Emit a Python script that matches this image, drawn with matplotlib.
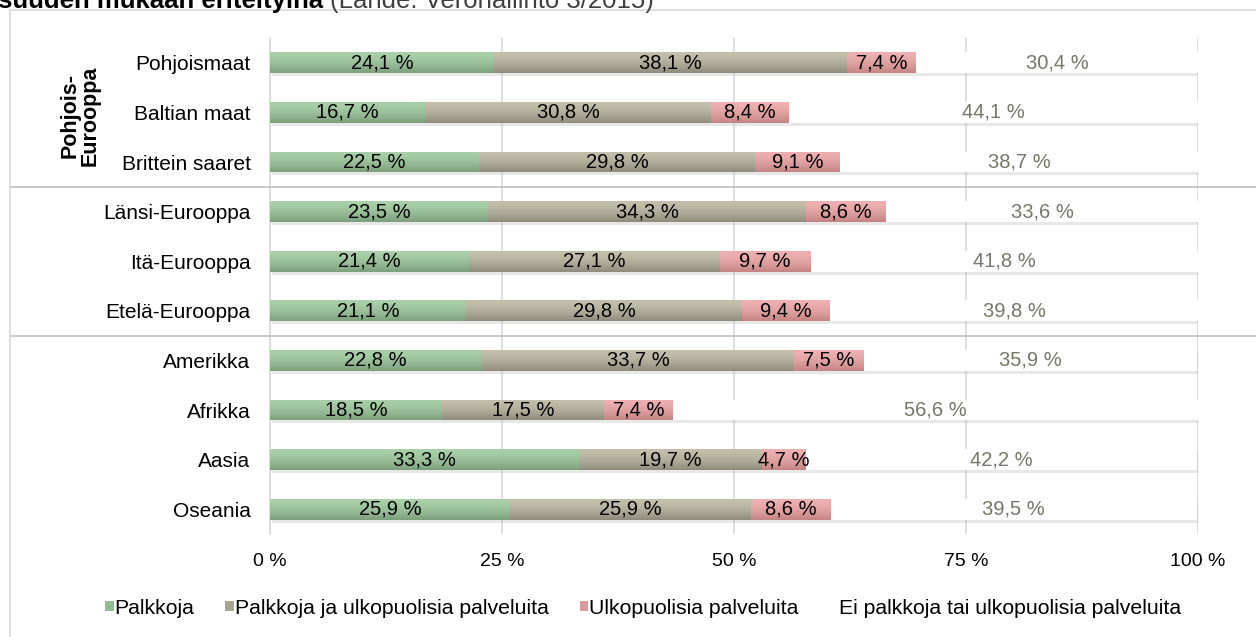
import numpy as np
import matplotlib
matplotlib.use("Agg")
import matplotlib.pyplot as plt
import matplotlib.transforms as mtransforms
from matplotlib.lines import Line2D
from matplotlib.patches import Patch
from matplotlib import patheffects as pe

REG = 'Liberation Sans'
plt.rcParams['font.family'] = [REG, 'DejaVu Sans']

categories = ["Pohjoismaat", "Baltian maat", "Brittein saaret", "Länsi-Eurooppa",
              "Itä-Eurooppa", "Etelä-Eurooppa", "Amerikka", "Afrikka", "Aasia", "Oseania"]
palkkoja = [24.1, 16.7, 22.5, 23.5, 21.4, 21.1, 22.8, 18.5, 33.3, 25.9]
palkkoja_ja_ulk = [38.1, 30.8, 29.8, 34.3, 27.1, 29.8, 33.7, 17.5, 19.7, 25.9]
ulkopuolisia = [7.4, 8.4, 9.1, 8.6, 9.7, 9.4, 7.5, 7.4, 4.7, 8.6]
ei_kumpaakaan = [30.4, 44.1, 38.7, 33.6, 41.8, 39.8, 35.9, 56.6, 42.2, 39.5]
series_names = ["Palkkoja", "Palkkoja ja ulkopuolisia palveluita",
                "Ulkopuolisia palveluita", "Ei palkkoja tai ulkopuolisia palveluita"]
xticks = [0, 25, 50, 75, 100]
xtick_labels = ["0 %", "25 %", "50 %", "75 %", "100 %"]
group_label = "Pohjois-\nEurooppa"
title_bold = "suuden mukaan eriteltyinä"
title_normal = "(Lähde: Verohallinto 3/2015)"

series = [palkkoja, palkkoja_ja_ulk, ulkopuolisia, ei_kumpaakaan]
top_cols = ["#a9d0a9", "#c3bfab", "#eeb0b0", "#ffffff"]
bot_cols = ["#7c9f7c", "#8e8b7c", "#c48484", "#ffffff"]
legend_cols = ["#8fbb8f", "#a8a592", "#dc9a9a", "#ffffff"]
label_cols = ["#000000", "#000000", "#000000", "#76766a"]

W, H = 1256, 637
fig = plt.figure(figsize=(W / 100, H / 100), dpi=100)
ax = fig.add_axes([270 / W, 1 - 534 / H, (1198 - 270) / W, (534 - 38) / H])

n = len(categories)
ypos = np.arange(n)[::-1]
left = np.zeros(n)
bar_h = 0.42
rects_all = []
for k, vals in enumerate(series):
    vals = np.array(vals)
    bars = ax.barh(ypos, vals, left=left, height=bar_h, color=top_cols[k],
                   edgecolor='none', zorder=3,
                   path_effects=[pe.SimplePatchShadow(offset=(1.2, -2.2), shadow_rgbFace='#9a9a9a', alpha=0.22),
                                 pe.Normal()])
    rects_all.append(bars)
    for r, v in zip(bars, vals):
        cx = r.get_x() + r.get_width() / 2
        cy = r.get_y() + r.get_height() / 2
        ax.text(cx, cy, f"{v:.1f} %".replace('.', ','), ha='center', va='center',
                fontsize=14.5, color=label_cols[k], zorder=6)
    left = left + vals

# vertical gradient on the coloured bars
def hex2rgb(h):
    return np.array([int(h[i:i + 2], 16) / 255 for i in (1, 3, 5)])

for k in range(3):
    t = np.linspace(0, 1, 64).reshape(-1, 1, 1)
    c0, c1 = hex2rgb(top_cols[k]), hex2rgb(bot_cols[k])
    t2 = t ** 1.6
    img = (c0 * (1 - t2) + c1 * t2) * np.ones((64, 2, 3))
    for r in rects_all[k]:
        x0, y0, w, h = r.get_x(), r.get_y(), r.get_width(), r.get_height()
        im = ax.imshow(img, extent=[x0, x0 + w, y0, y0 + h], origin='upper',
                       aspect='auto', zorder=4, interpolation='bilinear')
        im.set_clip_path(r)

ax.set_xlim(0, 100)
ax.set_ylim(-0.5, n - 0.5)
ax.set_aspect('auto')
ax.set_xticks(xticks)
ax.set_xticklabels(xtick_labels, fontsize=14)
ax.set_yticks(ypos)
ax.set_yticklabels(categories, fontsize=15)
ax.tick_params(axis='both', length=0)
ax.tick_params(axis='x', pad=14)
ax.tick_params(axis='y', pad=14)
ax.xaxis.grid(True, color='#d9d9d9', linewidth=1.2, zorder=0)
ax.set_axisbelow(True)
for s in ['top', 'right', 'bottom']:
    ax.spines[s].set_visible(False)
ax.spines['left'].set_color('#d9d9d9')
ax.spines['left'].set_linewidth(1.2)

# group separators
bt = mtransforms.blended_transform_factory(fig.transFigure, ax.transData)
for yv in [ypos[2] - 0.5, ypos[5] - 0.5]:
    fig.add_artist(Line2D([10 / W, 1], [yv, yv], transform=bt, color='#c0c0c0', linewidth=1.2))

# group label
fig.text(80 / W, 1 - 116 / H, group_label, rotation=90, ha='center', va='center',
         fontsize=15.5, fontweight='bold', multialignment='center', linespacing=0.95)

# chart area border
fig.add_artist(Line2D([10 / W, 10 / W], [0, 1 - 10 / H], transform=fig.transFigure, color='#d9d9d9', linewidth=1.2))
fig.add_artist(Line2D([10 / W, 1], [1 - 10 / H, 1 - 10 / H], transform=fig.transFigure, color='#d9d9d9', linewidth=1.2))

# title (cut at top in reference)
fig.text(-2 / W, 1 - 8 / H, title_bold, ha='left', va='baseline', fontsize=18.5, fontweight='bold')
fig.text(330 / W, 1 - 8 / H, title_normal, ha='left', va='baseline', fontsize=18.5, color='#404040')

# legend
handles = [Patch(facecolor=c, edgecolor='none') for c in legend_cols]
fig.legend(handles, series_names, loc='center', bbox_to_anchor=(643 / W, 1 - 608 / H), ncol=4,
           frameon=False, prop={'size': 15.3},
           handlelength=0.4, handleheight=0.4, handletextpad=0.05, columnspacing=1.45)

fig.savefig("out.png", dpi=100)
